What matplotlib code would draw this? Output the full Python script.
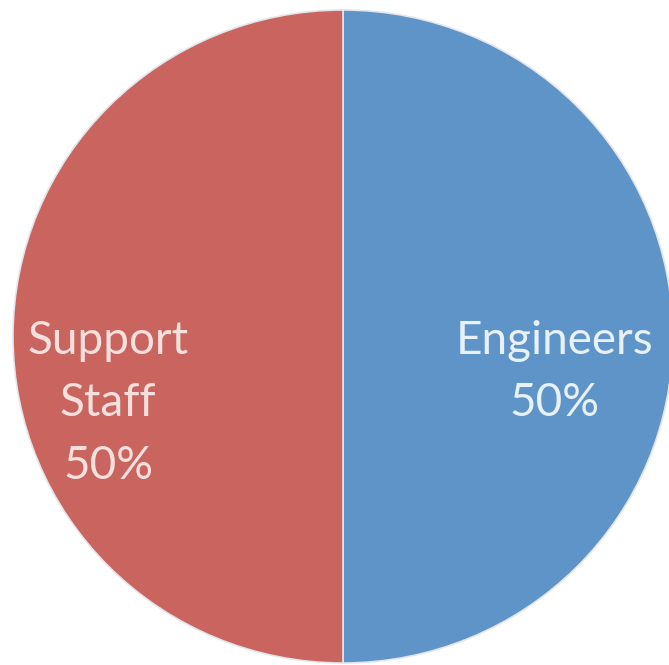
import matplotlib.pyplot as plt

labels = ['Engineers', 'Support\nStaff']
shares = [50, 50]
colors = ['#5f94c8', '#c9645e']
text_colors = ['#e8f0f8', '#f6e0de']

W, H = 669, 665
fig = plt.figure(figsize=(W / 100, H / 100), dpi=100)
fig.patch.set_facecolor('white')

# pie centre (343, 336.5) px, radii 330 x 326.5 px
cx, cy, rx, ry = 343, 336.5, 330, 326.5
ax = fig.add_axes([(cx - rx) / W, (H - cy - ry) / H, 2 * rx / W, 2 * ry / H])

wedges, _ = ax.pie(shares, colors=colors, startangle=90, counterclock=False,
                   wedgeprops=dict(edgecolor='#e4e4ec', linewidth=1.2))
ax.set_aspect('auto')
ax.set_xlim(-1, 1)
ax.set_ylim(-1, 1)
ax.axis('off')

label_pos = [(0.642, -0.108), (-0.712, -0.205)]
for lab, val, tc, (x, y) in zip(labels, shares, text_colors, label_pos):
    ax.text(x, y, f'{lab}\n{val}%', ha='center', va='center', color=tc,
            fontsize=33, family='Lato', linespacing=1.6)

fig.savefig('out.png', dpi=100)
